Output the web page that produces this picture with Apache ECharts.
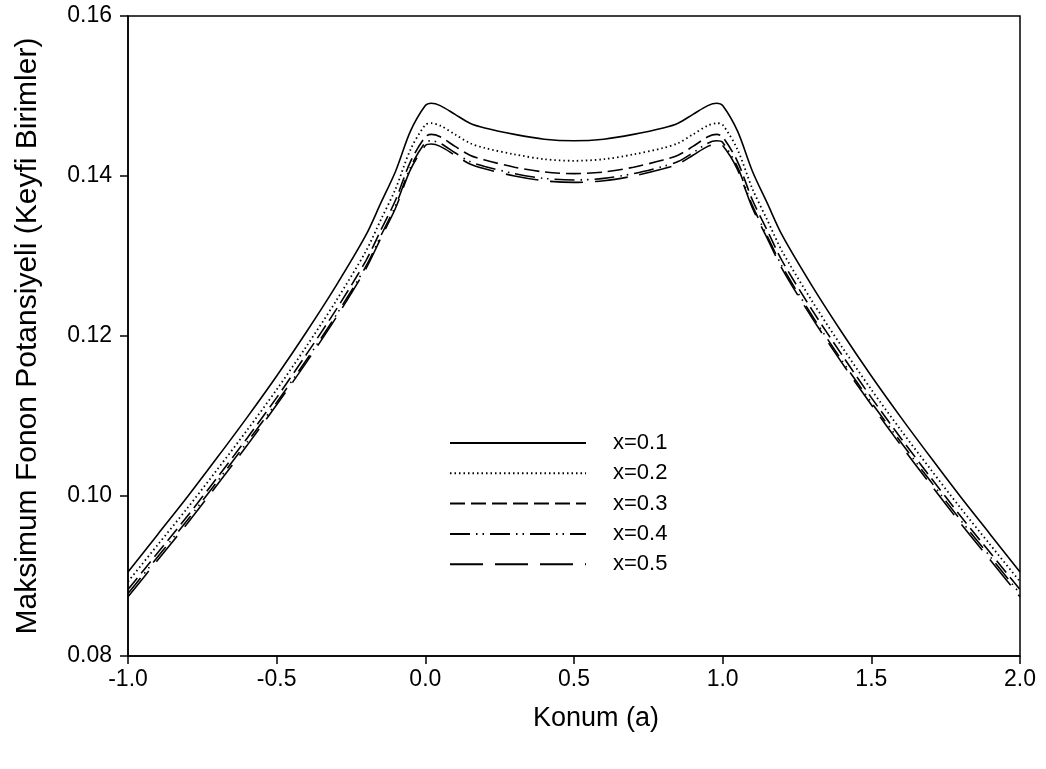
<!DOCTYPE html>
<html>
<head>
<meta charset="utf-8">
<script src="https://cdn.jsdelivr.net/npm/echarts@6/dist/echarts.min.js"></script>
<style>
  html, body { margin: 0; padding: 0; background: #fff; }
  #chart { width: 1046px; height: 769px; }
</style>
</head>
<body>
<div id="chart"></div>
<script>
// konum (a)
const positions = [-1, -0.9, -0.8, -0.7, -0.6, -0.5, -0.4, -0.3, -0.2, -0.15, -0.1, -0.05, 0, 0.02, 0.05, 0.1, 0.15, 0.2, 0.3, 0.4, 0.5,
  0.6, 0.7, 0.8, 0.85, 0.9, 0.95, 0.98, 1.0, 1.05, 1.1, 1.15, 1.2, 1.3, 1.4, 1.5, 1.6, 1.7, 1.8, 1.9, 2.0];

const seriesNames = ['x=0.1', 'x=0.2', 'x=0.3', 'x=0.4', 'x=0.5'];

const valsX01 = [0.0905, 0.0952, 0.0999, 0.1048, 0.1098, 0.1150, 0.1205, 0.1263, 0.1326, 0.1366, 0.1406, 0.1456, 0.1488, 0.1491, 0.1488, 0.1477, 0.1466, 0.1460, 0.1452, 0.1446, 0.1444,
  0.1446, 0.1452, 0.1460, 0.1466, 0.1477, 0.1488, 0.1491, 0.1488, 0.1456, 0.1406, 0.1366, 0.1326, 0.1263, 0.1205, 0.1150, 0.1098, 0.1048, 0.0999, 0.0952, 0.0905];
const valsX02 = [0.0893, 0.0939, 0.0985, 0.1033, 0.1082, 0.1133, 0.1187, 0.1244, 0.1306, 0.1345, 0.1384, 0.1433, 0.1464, 0.1466, 0.1463, 0.1452, 0.1441, 0.1435, 0.1427, 0.1421, 0.1419,
  0.1421, 0.1427, 0.1435, 0.1441, 0.1452, 0.1463, 0.1466, 0.1464, 0.1433, 0.1384, 0.1345, 0.1306, 0.1244, 0.1187, 0.1133, 0.1082, 0.1033, 0.0985, 0.0939, 0.0893];
const valsX03 = [0.0883, 0.0929, 0.0975, 0.1023, 0.1072, 0.1123, 0.1177, 0.1233, 0.1294, 0.1332, 0.1370, 0.1418, 0.1449, 0.1452, 0.1449, 0.1437, 0.1426, 0.1420, 0.1411, 0.1405, 0.1403,
  0.1405, 0.1411, 0.1420, 0.1426, 0.1437, 0.1449, 0.1452, 0.1449, 0.1418, 0.1370, 0.1332, 0.1294, 0.1233, 0.1177, 0.1123, 0.1072, 0.1023, 0.0975, 0.0929, 0.0883];
const valsX04 = [0.0878, 0.0924, 0.0970, 0.1018, 0.1067, 0.1117, 0.1170, 0.1226, 0.1287, 0.1325, 0.1363, 0.1411, 0.1442, 0.1444, 0.1441, 0.1429, 0.1418, 0.1412, 0.1403, 0.1397, 0.1395,
  0.1397, 0.1403, 0.1412, 0.1418, 0.1429, 0.1441, 0.1444, 0.1442, 0.1411, 0.1363, 0.1325, 0.1287, 0.1226, 0.1170, 0.1117, 0.1067, 0.1018, 0.0970, 0.0924, 0.0878];
const valsX05 = [0.0874, 0.0920, 0.0966, 0.1014, 0.1063, 0.1114, 0.1167, 0.1223, 0.1284, 0.1322, 0.1360, 0.1408, 0.1438, 0.1440, 0.1437, 0.1426, 0.1415, 0.1409, 0.1400, 0.1394, 0.1392,
  0.1394, 0.1400, 0.1409, 0.1415, 0.1426, 0.1437, 0.1440, 0.1438, 0.1408, 0.1360, 0.1322, 0.1284, 0.1223, 0.1167, 0.1114, 0.1063, 0.1014, 0.0966, 0.0920, 0.0874];

const allVals = [valsX01, valsX02, valsX03, valsX04, valsX05];
const dashes = ['solid', [1.5, 3], [15, 6], [20, 6, 1.5, 5, 1.5, 6], [33, 12]];

const chart = echarts.init(document.getElementById('chart'));
const font = '"Liberation Sans", Arial, sans-serif';

chart.setOption({
  animation: false,
  backgroundColor: '#fff',
  textStyle: { fontFamily: font },
  grid: {
    left: 128, right: 26, top: 16, bottom: 113,
    show: true, borderColor: '#000', borderWidth: 1.5
  },
  legend: {
    orient: 'vertical',
    left: 444, top: 427,
    itemWidth: 136, itemHeight: 14, itemGap: 8.3,
    data: seriesNames,
    itemStyle: { opacity: 0 },
    textStyle: { fontFamily: font, fontSize: 22, lineHeight: 22, color: '#000', padding: [0, 0, 0, 22] }
  },
  xAxis: {
    type: 'value', min: -1, max: 2, interval: 0.5,
    name: 'Konum (a)', nameLocation: 'middle', nameGap: 49,
    nameTextStyle: { fontFamily: font, fontSize: 27, color: '#000', padding: [0, 0, 0, 44] },
    axisLine: { onZero: false, lineStyle: { color: '#000', width: 1.5 } },
    axisTick: { show: true, inside: false, length: 8, lineStyle: { color: '#000', width: 1.5 } },
    axisLabel: { fontFamily: font, fontSize: 23, color: '#000', margin: 12, formatter: v => v.toFixed(1) },
    splitLine: { show: false }
  },
  yAxis: {
    type: 'value', min: 0.08, max: 0.16, interval: 0.02,
    name: 'Maksimum Fonon Potansiyeli (Keyfi Birimler)', nameLocation: 'middle', nameGap: 85,
    nameTextStyle: { fontFamily: font, fontSize: 30, color: '#000' },
    axisLine: { show: true, onZero: false, lineStyle: { color: '#000', width: 1.5 } },
    axisTick: { show: true, inside: false, length: 8, lineStyle: { color: '#000', width: 1.5 } },
    axisLabel: { fontFamily: font, fontSize: 23, color: '#000', margin: 16, formatter: v => v.toFixed(2) },
    splitLine: { show: false }
  },
  series: seriesNames.map((name, i) => ({
    name: name,
    type: 'line',
    symbol: 'none',
    smooth: 0.3,
    data: positions.map((p, j) => [p, allVals[i][j]]),
    lineStyle: { color: '#000', width: i === 1 ? 1.8 : 1.6, type: dashes[i] },
    itemStyle: { color: '#000' }
  }))
});
</script>
</body>
</html>
